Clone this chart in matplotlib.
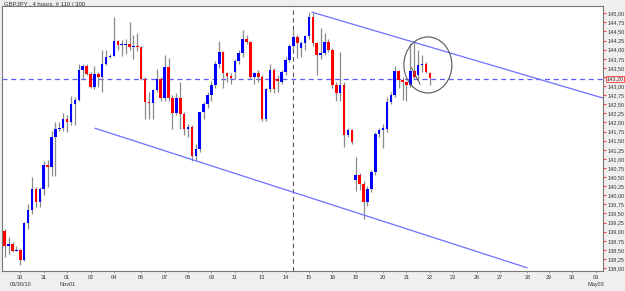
import matplotlib
matplotlib.use("Agg")
import matplotlib.pyplot as plt
from matplotlib.patches import Ellipse
from matplotlib.ticker import FuncFormatter, FixedLocator, MultipleLocator
import numpy as np
import logging
logging.getLogger("matplotlib.font_manager").setLevel(logging.ERROR)

plt.rcParams["font.family"] = ["Liberation Sans Narrow", "Liberation Sans", "DejaVu Sans"]

# ---- data (GBPJPY, 4-hour candles) ----
opens = [139.01, 138.62, 138.66, 138.48, 138.50, 138.22, 139.25, 139.60, 140.17, 139.81,
         140.17, 140.82, 140.79, 141.60, 141.81, 141.85, 142.10, 142.01, 142.51, 142.62,
         143.45, 143.54, 143.34, 142.97, 143.34, 143.24, 143.61, 143.80, 143.84, 144.24,
         144.12, 144.14, 144.16, 144.07, 144.09, 144.07, 143.20, 142.56, 142.54, 142.88,
         143.20, 142.66, 143.53, 142.67, 142.26, 142.68, 142.24, 141.83, 141.88, 141.08,
         141.28, 142.29, 142.50, 142.75, 143.02, 143.60, 143.94, 143.35, 143.29, 143.40,
         143.69, 143.90, 144.28, 144.20, 143.26, 143.35, 143.25, 142.10, 142.92, 143.44,
         143.20, 143.12, 143.39, 143.73, 144.10, 144.34, 144.04, 144.19, 144.37, 144.89,
         144.17, 143.85, 143.90, 144.22, 143.99, 143.03, 142.80, 143.03, 141.65, 141.78,
         140.41, 140.55, 140.32, 139.81, 140.18, 140.64, 141.69, 141.78, 141.83, 142.56,
         142.75, 143.42, 143.16, 143.12, 143.03, 143.42, 143.30, 143.58, 143.62, 143.36]
highs = [139.07, 138.86, 138.71, 138.61, 138.53, 139.27, 139.77, 140.51, 140.24, 140.22,
         140.93, 140.96, 141.77, 142.01, 142.00, 142.25, 142.20, 142.74, 142.69, 143.61,
         143.61, 143.60, 143.40, 143.54, 143.40, 143.98, 143.98, 143.88, 144.90, 144.26,
         144.26, 144.30, 144.76, 144.39, 144.45, 144.10, 143.25, 142.83, 142.93, 143.47,
         143.25, 143.85, 143.76, 142.75, 142.80, 143.12, 142.30, 141.95, 141.92, 141.40,
         142.30, 142.55, 142.85, 143.15, 143.70, 144.25, 143.96, 143.40, 143.35, 143.75,
         144.00, 144.55, 144.40, 144.25, 143.40, 143.45, 143.30, 142.95, 143.60, 143.50,
         143.30, 143.45, 143.80, 144.15, 144.55, 144.40, 144.25, 144.40, 145.03, 145.00,
         144.20, 144.59, 144.45, 144.30, 144.05, 143.10, 143.94, 143.10, 141.85, 141.82,
         141.04, 140.60, 140.40, 140.25, 140.70, 141.75, 141.85, 141.95, 142.70, 142.85,
         143.55, 143.45, 143.25, 143.15, 144.18, 144.20, 143.99, 143.85, 143.66, 143.40]
lows = [138.31, 138.40, 138.43, 138.46, 138.09, 138.20, 139.08, 139.49, 139.69, 139.69,
        140.02, 140.22, 140.52, 140.54, 141.76, 141.76, 141.75, 141.94, 141.94, 142.60,
        143.20, 143.30, 142.95, 142.93, 142.97, 142.83, 143.58, 143.76, 143.82, 143.98,
        143.84, 143.89, 144.00, 143.75, 143.96, 143.16, 142.10, 142.10, 142.10, 142.85,
        142.60, 142.60, 142.60, 141.83, 142.20, 141.83, 141.65, 141.60, 140.95, 140.98,
        141.20, 142.10, 142.40, 142.60, 142.95, 143.50, 142.95, 143.10, 143.05, 143.20,
        143.60, 143.80, 144.15, 143.20, 143.05, 143.10, 142.05, 142.05, 142.85, 142.80,
        142.85, 143.05, 143.30, 143.65, 144.00, 143.78, 143.80, 144.00, 144.30, 144.10,
        143.30, 143.75, 143.85, 143.95, 142.95, 142.60, 142.60, 141.33, 141.60, 141.40,
        140.13, 140.15, 139.36, 139.70, 140.10, 140.55, 141.60, 141.30, 141.75, 142.50,
        142.70, 142.95, 142.61, 142.60, 142.98, 143.20, 143.20, 143.40, 143.35, 143.03]
closes = [138.62, 138.66, 138.48, 138.50, 138.22, 139.25, 139.60, 140.17, 139.81, 140.17,
          140.82, 140.79, 141.60, 141.81, 141.85, 142.10, 142.01, 142.51, 142.62, 143.45,
          143.54, 143.34, 142.97, 143.34, 143.24, 143.61, 143.80, 143.84, 144.24, 144.12,
          144.14, 144.16, 144.07, 144.09, 144.07, 143.20, 142.56, 142.54, 142.88, 143.20,
          142.66, 143.53, 142.67, 142.26, 142.68, 142.24, 141.83, 141.88, 141.08, 141.28,
          142.29, 142.50, 142.75, 143.02, 143.60, 143.94, 143.35, 143.29, 143.21, 143.69,
          143.90, 144.28, 144.20, 143.26, 143.35, 143.25, 142.10, 142.92, 143.44, 142.93,
          143.15, 143.39, 143.73, 144.10, 144.34, 144.17, 144.19, 144.37, 144.89, 144.17,
          143.85, 143.90, 144.22, 143.99, 143.03, 142.80, 143.03, 141.65, 141.78, 141.46,
          140.55, 140.32, 139.81, 140.18, 140.64, 141.69, 141.78, 141.86, 142.56, 142.75,
          143.42, 143.16, 143.12, 143.03, 143.42, 143.25, 143.58, 143.62, 143.39, 143.21]

day_tick_pos = [4, 10, 16, 22, 28, 35, 41, 47, 53, 59, 66, 72, 78, 84, 90, 97, 103,
                109, 115, 121, 127, 134, 139.5, 145.5, 151.5]
day_tick_labels = ["30", "31", "01", "02", "04", "06", "07", "08", "09", "11", "13", "14",
                   "15", "16", "18", "20", "21", "22", "23", "26", "27", "28", "29", "30", "03"]
date_labels = {0: "03/30/10", 2: "Nov01", 24: "May03"}

current_price = 143.20
vline_bar = 74
upper_trend_x = [78.8, 153.4]
upper_trend_y = [145.03, 142.67]
lower_trend_x = [23.2, 133.9]
lower_trend_y = [141.84, 138.01]
circle_center = (108.5, 143.58)
circle_size = (12.3, 1.54)
title = "GBPJPY , 4 hours, # 110 / 300"

# ---- figure ----
W, H, DPI = 625, 291, 100
FS = 4.0
fig = plt.figure(figsize=(W / DPI, H / DPI), dpi=DPI, facecolor="#efefef")
ax = fig.add_axes([2 / W, 1 - 271 / H, (603 - 2) / W, (271 - 6) / H], facecolor="white")

x = np.arange(len(opens))
o = np.array(opens); c = np.array(closes); hi = np.array(highs); lo = np.array(lows)
up = c >= o
ax.vlines(x, lo, hi, color="#8a8a8a", lw=0.9, zorder=2)
bottoms = np.minimum(o, c)
heights = np.maximum(np.abs(c - o), 0.025)
colors = np.where(up, "#0000ff", "#ff0000")
ax.bar(x, heights, bottom=bottoms, width=0.65, color=colors, linewidth=0, zorder=3)

# reference lines
ax.axhline(current_price, color="#5c5cff", lw=0.9, ls=(0, (4, 3)), zorder=1)
ax.axvline(vline_bar, color="#555555", lw=0.8, ls=(0, (4, 3)), zorder=1)
ax.plot(upper_trend_x, upper_trend_y, color="#6f6fff", lw=0.9, zorder=4)
ax.plot(lower_trend_x, lower_trend_y, color="#6f6fff", lw=0.9, zorder=4)
ax.add_patch(Ellipse(circle_center, circle_size[0], circle_size[1], fill=False,
                     edgecolor="#555555", lw=0.8, zorder=5))
ax.plot([104.2, 106.5], [143.52, 143.05], color="#555555", lw=0.7, zorder=5)

ax.set_xlim(-0.7, 153.4)
ax.set_ylim(137.92, 145.20)

# y axis on right
ax.yaxis.tick_right()
ax.yaxis.set_major_locator(MultipleLocator(0.25))
ax.yaxis.set_major_formatter(FuncFormatter(lambda v, p: f"{v:.2f}".replace(".", ",")))
ax.tick_params(axis="y", colors="#ff4040", labelcolor="#333333", labelsize=FS,
               length=2.2, width=0.8, pad=0.8)
ax.tick_params(axis="x", colors="#999999", labelcolor="#333333", labelsize=FS,
               length=1.5, width=0.6, pad=1.5)
ax.xaxis.set_major_locator(FixedLocator(day_tick_pos))
ax.set_xticklabels(day_tick_labels)

for idx, txt in date_labels.items():
    ax.annotate(txt, xy=(day_tick_pos[idx], 137.92), xytext=(0, -8),
                textcoords="offset points", ha="center", va="top", fontsize=FS,
                color="#333333", annotation_clip=False)

# current price box
ax.annotate(f"{current_price:.2f}".replace(".", ","), xy=(1, current_price),
            xycoords=("axes fraction", "data"), xytext=(2.5, 0),
            textcoords="offset points", ha="left", va="center", fontsize=FS,
            color="#333333", annotation_clip=False,
            bbox=dict(boxstyle="square,pad=0.1", fc="#ffe8e8", ec="#ff5050", lw=0.7))

for s in ax.spines.values():
    s.set_color("#777777"); s.set_linewidth(0.8)

fig.text(4 / W, 1 - 4 / H, title, fontsize=FS + 0.3, color="#333333", ha="left", va="center")

fig.savefig("out.png", dpi=DPI, facecolor=fig.get_facecolor())
